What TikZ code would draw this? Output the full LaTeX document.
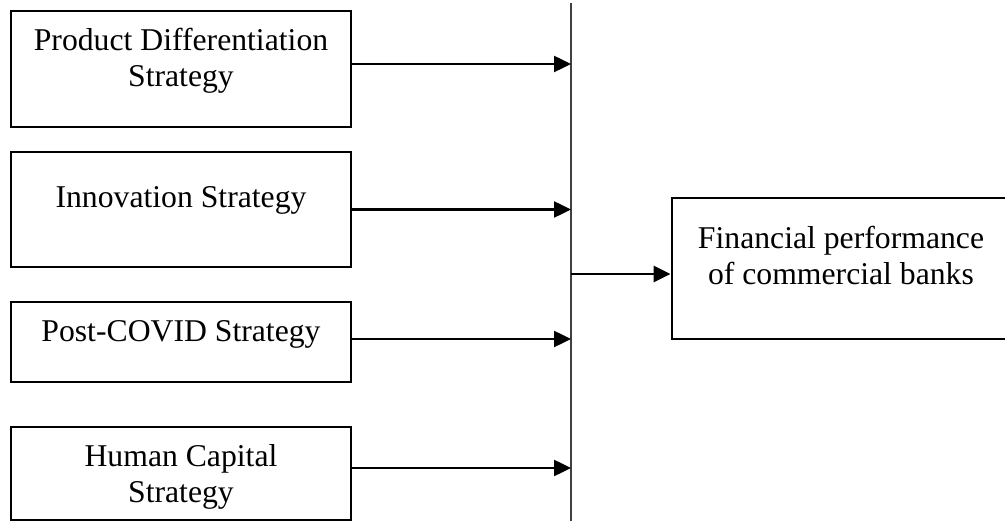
\documentclass[tikz,border=0pt]{standalone}
\usepackage{fontspec}
\setmainfont{Liberation Serif}
\usetikzlibrary{arrows.meta,calc}

\begin{document}
\begin{tikzpicture}[x=1pt,y=-1pt,
  box/.style={draw,line width=2.8pt,minimum width=340pt,inner sep=0pt},
  lbl/.style={anchor=base,align=center,inner sep=0pt,font=\fontsize{31.7}{36.5}\selectfont},
  arr/.style={-{Triangle[length=17pt,width=16pt]},line width=2.5pt},
  spine/.style={draw=black!75,line width=1.5pt}]
\useasboundingbox (0,0) rectangle (1005,521);

% strategy boxes
\node[box,minimum height=116pt] (pds) at (181,69) {};
\node[lbl] (pdst) at (181,87) {Product Differentiation\\Strategy};
\node[box,minimum height=115pt] (ins) at (181,209.5) {};
\node[lbl] (inst) at (181,208) {Innovation Strategy};
\node[box,minimum height=80pt] (pcs) at (181,342) {};
\node[lbl] (pcst) at (181,342) {Post-COVID Strategy};
\node[box,minimum height=93pt] (hcs) at (181,473.5) {};
\node[lbl] (hcst) at (181,503) {Human Capital\\Strategy};

% outcome box
\node[box,minimum width=338pt,minimum height=141pt] (fin) at (841,268.5) {};
\node[lbl] (fint) at (841,285) {Financial performance\\of commercial banks};

% vertical line
\coordinate (top) at (571,3);
\coordinate (bot) at (571,524);
\draw[spine] (top) -- (bot);

\draw[arr] ([yshift=5pt]pds.east) -- ([yshift=5pt]pds.east -| top);
\draw[arr] (ins.east) -- (ins.east -| top);
\draw[arr] ([yshift=3pt]pcs.east) -- ([yshift=3pt]pcs.east -| top);
\draw[arr] ([yshift=5.5pt]hcs.east) -- ([yshift=5.5pt]hcs.east -| top);
\draw[arr] ([yshift=-5.5pt]fin.west -| top) -- ([yshift=-5.5pt]fin.west);
\end{tikzpicture}
\end{document}
